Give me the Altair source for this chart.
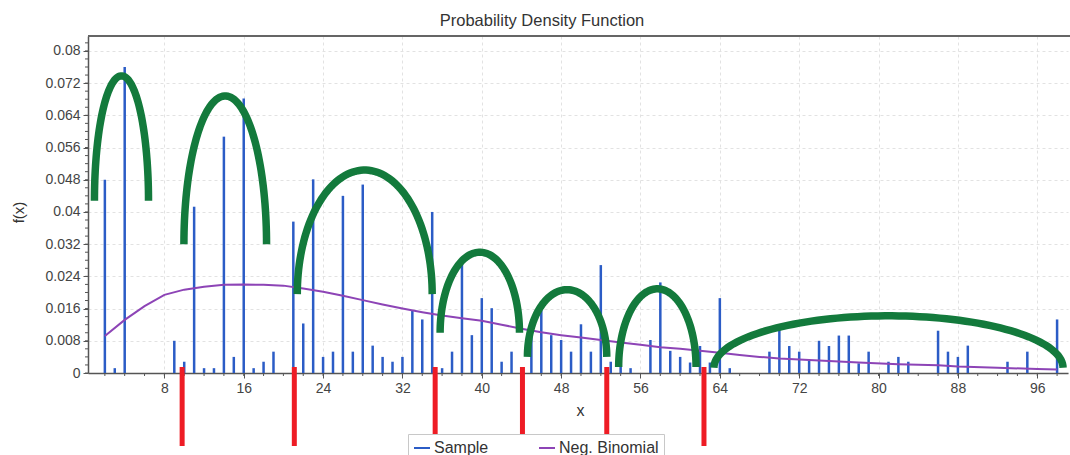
import altair as alt
import numpy as np
import pandas as pd

# ---- data ----
sample_x = [2, 3, 4, 9, 10, 11, 12, 13, 14, 15, 16, 17, 18, 19, 21, 22, 23, 24, 25, 26,
            27, 28, 29, 30, 31, 32, 33, 34, 35, 36, 37, 38, 39, 40, 41, 42, 43, 45, 46, 47,
            48, 49, 50, 51, 52, 53, 54, 55, 57, 58, 59, 60, 61, 62, 63, 64, 65, 69, 70, 71,
            72, 73, 74, 75, 76, 77, 78, 79, 81, 82, 83, 86, 87, 88, 89, 93, 95, 98]
sample_y = [0.048, 0.0012, 0.076, 0.008, 0.0028, 0.0413, 0.0012, 0.0012, 0.0587, 0.004,
            0.0682, 0.0012, 0.0028, 0.0053, 0.0376, 0.0123, 0.0481, 0.004, 0.0053, 0.044,
            0.0053, 0.0468, 0.0068, 0.004, 0.0028, 0.004, 0.0155, 0.0133, 0.040, 0.0012,
            0.0053, 0.0277, 0.0094, 0.0186, 0.0161, 0.0028, 0.0053, 0.0094, 0.0156, 0.0094,
            0.0082, 0.0053, 0.0121, 0.0053, 0.0268, 0.0028, 0.0016, 0.0012, 0.0082, 0.0225,
            0.0055, 0.004, 0.0026, 0.0067, 0.0026, 0.0186, 0.0012, 0.0053, 0.0107, 0.0067,
            0.0053, 0.003, 0.008, 0.0067, 0.0093, 0.0093, 0.0024, 0.0053, 0.0028, 0.004,
            0.0028, 0.0105, 0.0053, 0.004, 0.0068, 0.0028, 0.0053, 0.0133]

nb_x = [2, 4, 6, 8, 10, 12, 14, 16, 18, 20, 22, 24, 26, 28, 30, 32, 34, 36, 38, 40, 42, 44,
        46, 48, 50, 52, 54, 56, 58, 60, 62, 64, 66, 68, 70, 74, 78, 82, 86, 88, 92, 96, 98]
nb_y = [0.0092, 0.0132, 0.0166, 0.0194, 0.0207, 0.0214, 0.0219, 0.022, 0.0219, 0.0217,
        0.021, 0.0202, 0.0192, 0.0181, 0.017, 0.016, 0.0151, 0.0143, 0.0136, 0.013, 0.012,
        0.011, 0.0101, 0.0094, 0.0088, 0.0082, 0.0076, 0.007, 0.0064, 0.006, 0.0055, 0.005,
        0.0045, 0.004, 0.0036, 0.0031, 0.0026, 0.0022, 0.0019, 0.0016, 0.0013, 0.001, 0.0009]

# annotation arcs: left x, right x, base y, peak y
arc_left = [0.95, 9.97, 21.4, 35.8, 44.6, 53.8, 63.4]
arc_right = [6.4, 18.3, 35.0, 43.8, 52.6, 61.6, 98.6]
arc_base = [0.0428, 0.032, 0.0196, 0.010, 0.004, 0.0015, 0.0013]
arc_peak = [0.0738, 0.0688, 0.0504, 0.030, 0.0207, 0.0209, 0.0142]

# annotation red markers (x positions)
red_x = [9.79, 21.1, 35.3, 44.1, 52.6, 62.4]

x_minor = list(range(2, 99, 2))
x_major = list(range(8, 97, 8))
y_minor = [round(i * 0.002, 3) for i in range(0, 42)]
y_major = [round(i * 0.008, 3) for i in range(0, 11)]

# ---- tables ----
df_sample = pd.DataFrame({"x": sample_x, "v": sample_y, "series": "Sample"})
df_nb = pd.DataFrame({"x": nb_x, "v": nb_y, "series": "Neg. Binomial"})

rows = []
for k, (l, r, b, p) in enumerate(zip(arc_left, arc_right, arc_base, arc_peak)):
    cx, a, h = (l + r) / 2, (r - l) / 2, p - b
    for i, t in enumerate(np.linspace(np.pi, 0, 80)):
        rows.append({"arc": k, "i": i, "x": cx + a * np.cos(t), "v": b + h * np.sin(t)})
df_arcs = pd.DataFrame(rows)
df_red = pd.DataFrame({"x": red_x})
df_xminor = pd.DataFrame({"x": x_minor})
df_yminor = pd.DataFrame({"v": y_minor})

FONT = "Liberation Sans"
BLUE = "#2b5cc6"
PURPLE = "#8d44b6"
AXC = "#555"

xscale = alt.Scale(domain=[0.3, 99.1], nice=False, zero=False)
yscale = alt.Scale(domain=[0, 0.0837], nice=False)

color = alt.Color(
    "series:N",
    scale=alt.Scale(domain=["Sample", "Neg. Binomial"], range=[BLUE, PURPLE]),
    legend=alt.Legend(
        title=None, orient="none", legendX=320, legendY=398, direction="horizontal",
        symbolType="stroke", symbolSize=256, symbolStrokeWidth=2, labelFont=FONT,
        labelFontSize=16, labelColor="#333", columnPadding=46, strokeColor="#c8c8c8",
        padding=5, fillColor="white", labelOffset=3,
    ),
)

x_axis = alt.Axis(
    values=x_major, labelOverlap=False, tickSize=5,
    grid=True, gridColor="#e2e2e2", gridDash=[3, 3],
    title="x", titleX=492, titleY=37, titleBaseline="middle", titleAlign="center",
    titleFont=FONT, titleFontSize=16, titleFontWeight="normal", titleColor="#333",
    labelFont=FONT, labelFontSize=14, labelColor="#444", labelPadding=3,
    domainColor=AXC, domainWidth=1.5, tickColor=AXC, labelFlush=False,
)
y_axis = alt.Axis(
    values=y_major, labelOverlap=False, tickSize=5, format=".3~f",
    grid=True, gridColor="#e2e2e2", gridDash=[3, 3],
    title="f(x)", titleX=-70, titleY=176, titleAngle=270, titleBaseline="middle",
    titleAlign="center", titleFont=FONT, titleFontSize=15, titleFontWeight="normal",
    titleColor="#333", labelFont=FONT, labelFontSize=14, labelColor="#444",
    labelPadding=3, domainColor=AXC, domainWidth=1.5, tickColor=AXC, labelFlush=False,
)

X = alt.X("x:Q", scale=xscale, axis=x_axis)
Y = alt.Y("v:Q", scale=yscale, axis=y_axis)

# minor tick marks below the x axis and left of the y axis
x_minor_ticks = alt.Chart(df_xminor).mark_rule(color=AXC, strokeWidth=1).encode(
    x=X, y=alt.value(337), y2=alt.value(340),
)
y_minor_ticks = alt.Chart(df_yminor).mark_rule(color=AXC, strokeWidth=1).encode(
    y=Y, x=alt.value(-3), x2=alt.value(0),
)

frame = alt.Chart(df_xminor).mark_rule(color="#666", strokeWidth=1.5).encode(
    x=alt.value(0), x2=alt.value(982), y=alt.value(0),
)

bars = alt.Chart(df_sample).mark_rule(strokeWidth=2.5).encode(
    x=X, y=Y, y2=alt.datum(0), color=color,
)

nb_line = alt.Chart(df_nb).mark_line(strokeWidth=2).encode(
    x=X, y=Y, color=color,
)

arcs = alt.Chart(df_arcs).mark_line(strokeWidth=7.5, color="#137a3c", strokeCap="butt").encode(
    x=X, y=Y, detail="arc:N", order="i:Q",
)

reds = alt.Chart(df_red).mark_rule(strokeWidth=5, color="#ee1c25").encode(
    x=X, y=alt.value(331), y2=alt.value(410),
)

chart = alt.layer(bars, nb_line, x_minor_ticks, y_minor_ticks, frame, arcs, reds).properties(
    width=980,
    height=337,
    background="white",
    autosize=alt.AutoSizeParams(type="none"),
    padding={"left": 88, "top": 36, "right": 2, "bottom": 82},
    title=alt.TitleParams(
        "Probability Density Function", font=FONT, fontSize=16.5, fontWeight="normal",
        color="#333", anchor="middle", dx=-36, offset=6,
    ),
).configure_view(strokeWidth=0).configure_axis(labelOverlap=False)

chart.save("out.html", embed_options={"renderer": "svg", "actions": False})
